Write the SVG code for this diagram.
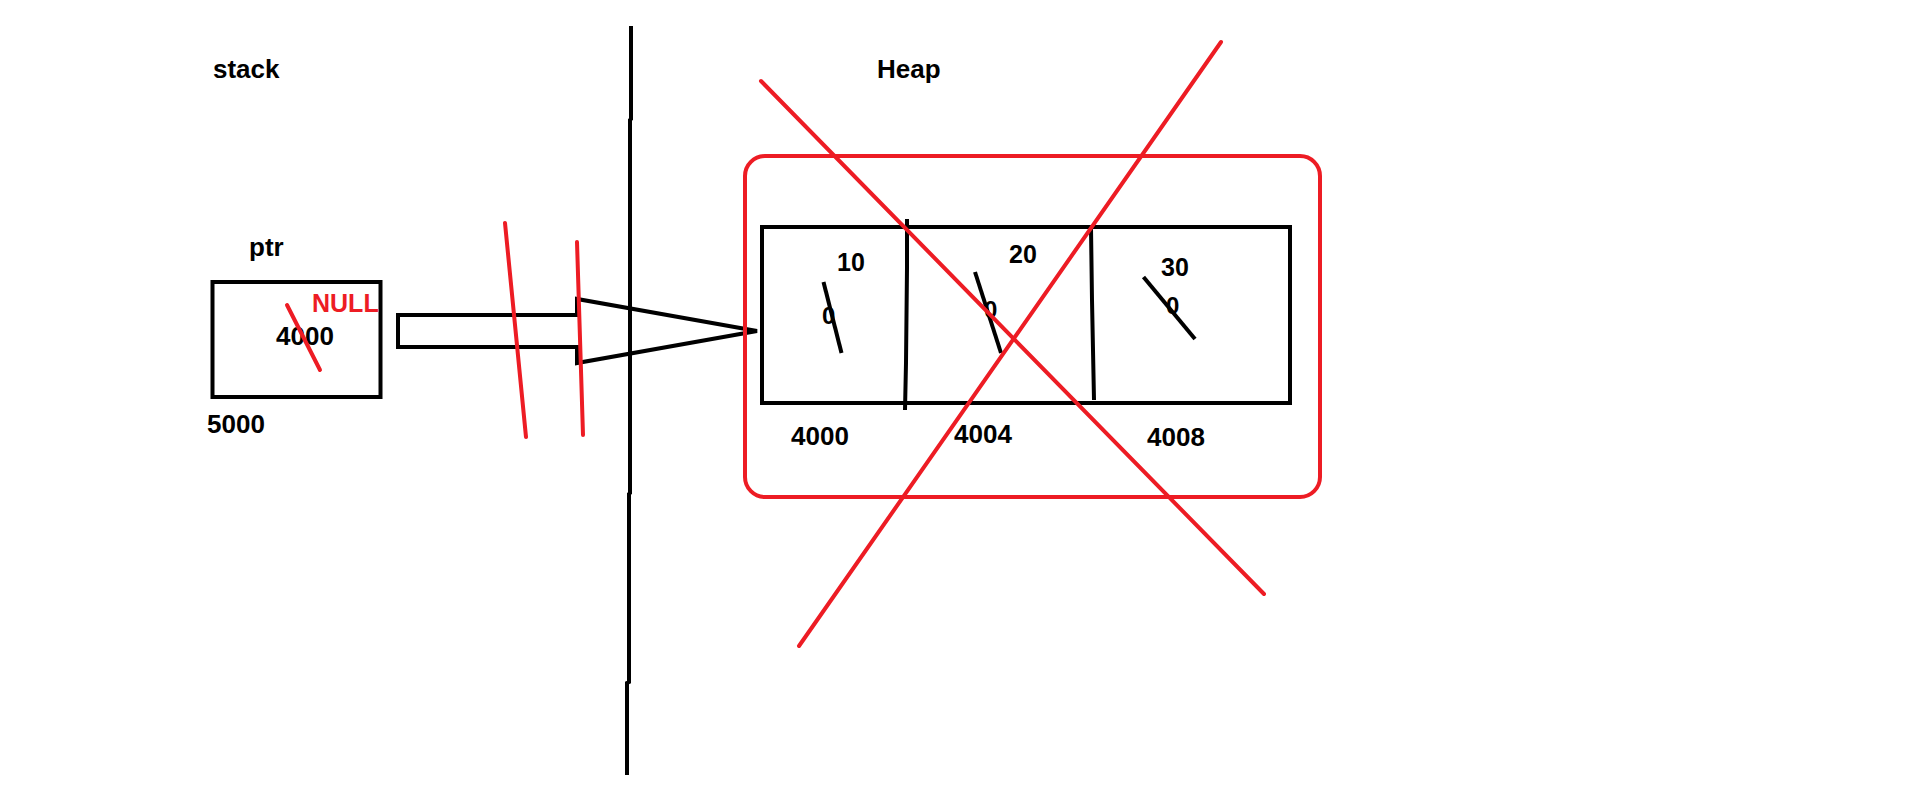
<svg xmlns="http://www.w3.org/2000/svg" width="1914" height="809" viewBox="0 0 1914 809">
<style>
.t{font-family:"Liberation Sans",Arial,sans-serif;font-weight:bold;fill:#000}
.big{font-size:26px}
.mid{font-size:25px}
.sm{font-size:24px}
.red{fill:#ED1C24}
.bk{stroke:#000;stroke-width:4;fill:none;stroke-linejoin:miter}
.rd{stroke:#ED1C24;stroke-width:4;fill:none;stroke-linecap:round}
</style>
<rect width="1914" height="809" fill="#fff"/>
<g id="labels">
<text class="t big" x="213" y="78">stack</text>
<text class="t big" x="877" y="78">Heap</text>
</g>
<g id="divider">
<polyline class="bk" points="631,26 631,119 630,120 630,493 629,494 629,682 627,683 627,775"/>
</g>
<g id="ptr">
<text class="t big" x="249" y="256">ptr</text>
<rect class="bk" x="212.5" y="282" width="168" height="115"/>
<text class="t big" x="276" y="345">4000</text>
<text class="t red" style="font-size:25px" x="312" y="312">NULL</text>
<line class="rd" x1="287" y1="305" x2="320" y2="370"/>
<text class="t big" x="207" y="433">5000</text>
</g>
<g id="connectors">
<path class="bk" d="M398,315 L577,315 L577,299 L757,331 L577,363 L577,347 L398,347 Z"/>
<line class="rd" x1="505" y1="223" x2="526" y2="437"/>
<line class="rd" x1="577" y1="242" x2="583" y2="435"/>
</g>
<g id="heap-array">
<rect class="bk" x="762" y="227" width="528" height="176"/>
<polyline class="bk" points="907,219 907,268 906,363 905,410"/>
<polyline class="bk" points="1091,228 1092,300 1094,400"/>
<g id="cell-4000">
<text class="t mid" x="837" y="271">10</text>
<text class="t sm" x="822" y="324">0</text>
<line class="bk" x1="823.5" y1="282" x2="841.5" y2="353"/>
<text class="t big" x="791" y="445">4000</text>
</g>
<g id="cell-4004">
<text class="t mid" x="1009" y="263">20</text>
<text class="t sm" x="984" y="318">0</text>
<line class="bk" x1="975" y1="272" x2="1001" y2="353"/>
<text class="t big" x="954" y="443">4004</text>
</g>
<g id="cell-4008">
<text class="t mid" x="1161" y="276">30</text>
<text class="t sm" x="1166" y="314">0</text>
<line class="bk" x1="1143.5" y1="277" x2="1195" y2="339"/>
<text class="t big" x="1147" y="446">4008</text>
</g>
</g>
<g id="heap-cross">
<rect class="rd" x="745" y="156" width="575" height="341" rx="20"/>
<line class="rd" x1="761" y1="81" x2="1264" y2="594"/>
<line class="rd" x1="1221" y1="42" x2="799" y2="646"/>
</g>
</svg>
